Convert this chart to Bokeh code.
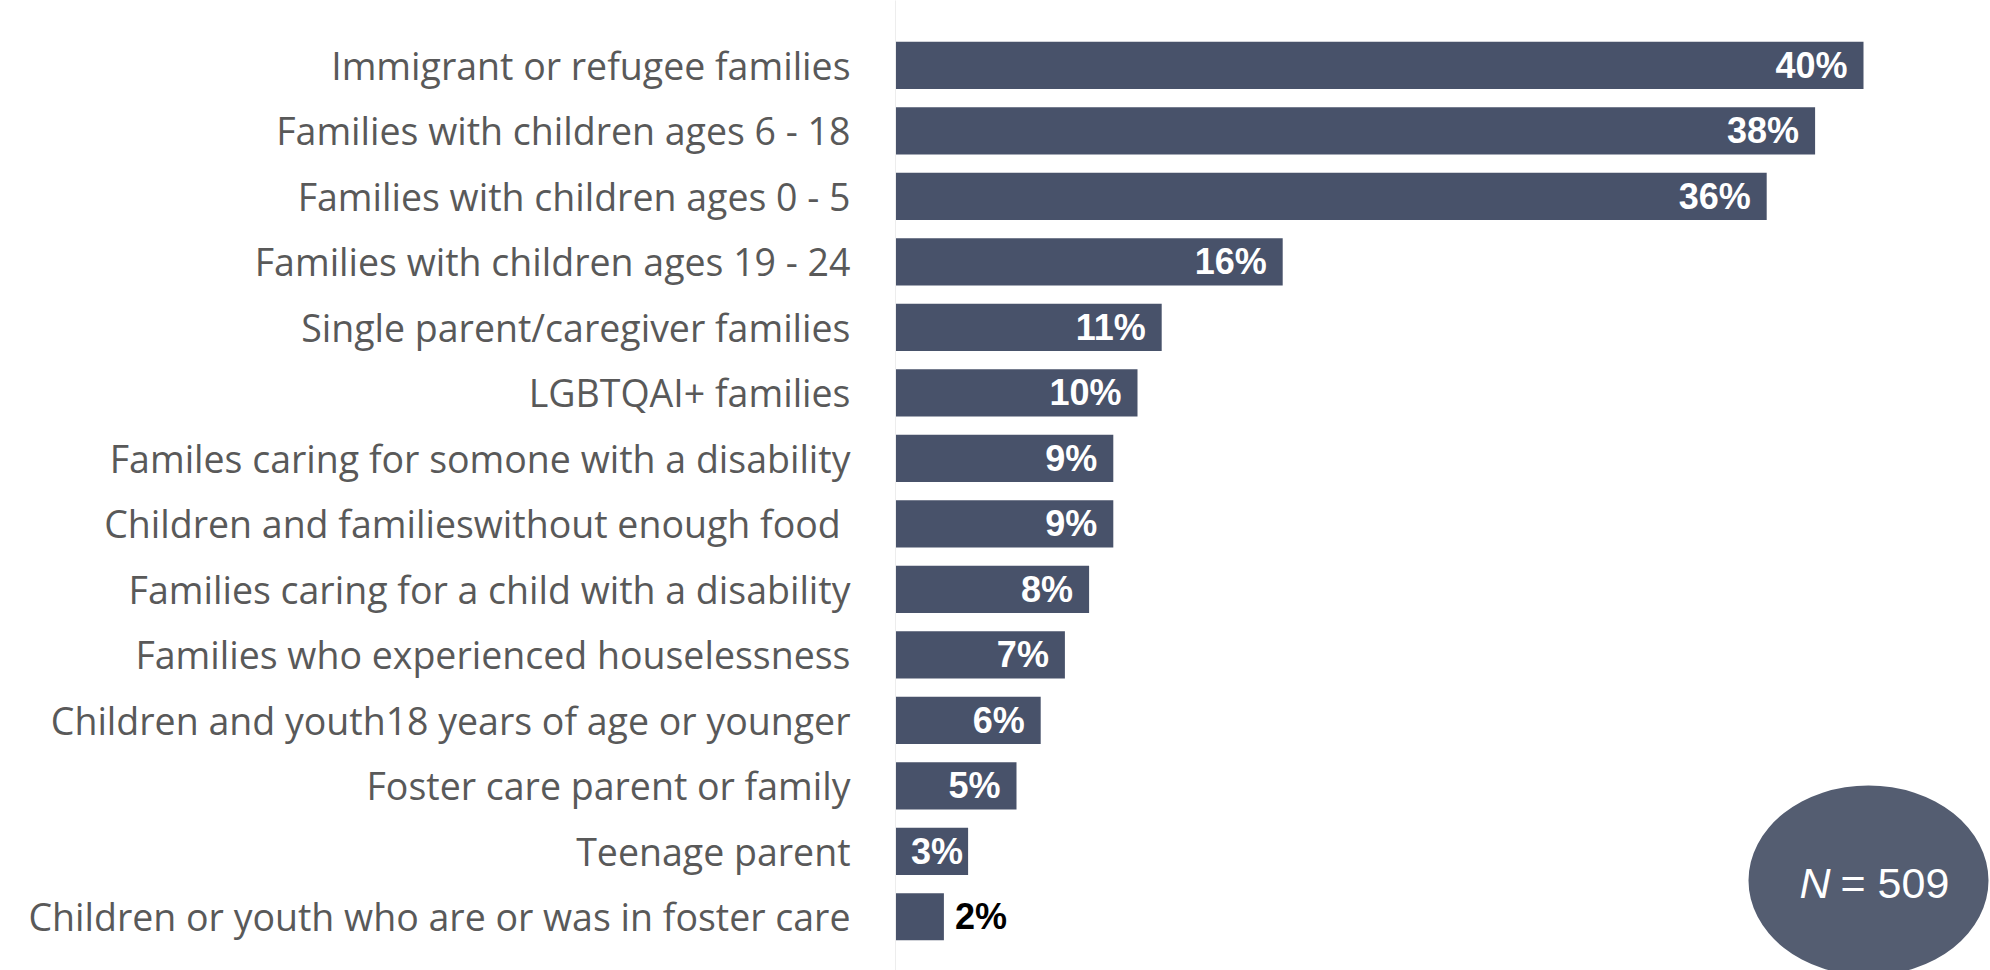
from bokeh.plotting import figure
from bokeh.models import ColumnDataSource, Range1d, FixedTicker, Label
from bokeh.core.properties import value
from bokeh.embed import file_html
from bokeh.resources import INLINE

categories = [
    "Immigrant or refugee families",
    "Families with children ages 6 - 18",
    "Families with children ages 0 - 5",
    "Families with children ages 19 - 24",
    "Single parent/caregiver families",
    "LGBTQAI+ families",
    "Familes caring for somone with a disability",
    "Children and familieswithout enough food ",
    "Families caring for a child with a disability",
    "Families who experienced houselessness",
    "Children and youth18 years of age or younger",
    "Foster care parent or family",
    "Teenage parent",
    "Children or youth who are or was in foster care",
]
percent = [40, 38, 36, 16, 11, 10, 9, 9, 8, 7, 6, 5, 3, 2]
sample_symbol = "N"
sample_size = 509

BAR_COLOR = "#48526a"
px_per_unit = 24.2
row_px = 65.5
pos = list(range(len(categories)))
labels = [f"{v}%" for v in percent]

inside = [v >= 3 for v in percent]
# inside-end label, pulled closer to the end when the bar is short
offsets = [-16 if v * px_per_unit > 100 else -5 for v in percent]
src_in = ColumnDataSource(dict(
    y=[p for p, k in zip(pos, inside) if k],
    x=[v for v, k in zip(percent, inside) if k],
    t=[l for l, k in zip(labels, inside) if k],
    o=[o for o, k in zip(offsets, inside) if k],
))
src_out = ColumnDataSource(dict(
    y=[p for p, k in zip(pos, inside) if not k],
    x=[v for v, k in zip(percent, inside) if not k],
    t=[l for l, k in zip(labels, inside) if not k],
))
src = ColumnDataSource(dict(y=pos, x=percent))

frame_w = 1990 - 895
y_bottom = 13.82
p = figure(
    width=1990, height=970,
    x_range=Range1d(0, frame_w / px_per_unit),
    y_range=Range1d(y_bottom, -0.99),
    output_backend="svg", toolbar_location=None,
    min_border_left=895, min_border_right=0, min_border_top=0, min_border_bottom=0,
)
p.outline_line_color = None
p.background_fill_color = "white"
p.border_fill_color = "white"
p.grid.visible = False
p.xaxis.visible = False

p.yaxis.ticker = FixedTicker(ticks=pos)
p.yaxis.major_label_overrides = {i: c for i, c in zip(pos, categories)}
p.yaxis.major_tick_line_color = None
p.yaxis.minor_tick_line_color = None
p.yaxis.axis_line_color = "#ededed"
p.yaxis.major_label_standoff = 39
p.yaxis.major_label_text_font = "Open Sans"
p.yaxis.major_label_text_font_size = "37.5px"
p.yaxis.major_label_text_color = "#595959"

p.hbar(y="y", right="x", left=0, height=0.72, source=src,
       fill_color=BAR_COLOR, line_color=None)

p.text(x="x", y="y", text="t", source=src_in, x_offset="o",
       text_align="right", text_baseline="middle",
       text_font=value("Liberation Sans"), text_font_style="bold",
       text_font_size="36px", text_color="white")
p.text(x="x", y="y", text="t", source=src_out, x_offset=11,
       text_align="left", text_baseline="middle",
       text_font=value("Liberation Sans"), text_font_style="bold",
       text_font_size="36px", text_color="black")

# N badge
p.ellipse(x=[(1868 - 895) / px_per_unit], y=[y_bottom - 90 / row_px],
          width=240 / px_per_unit, height=190 / row_px,
          fill_color="#545d71", line_color=None)
badge_x = (1834 - 895) / px_per_unit
badge_y = y_bottom - 88 / row_px
p.add_layout(Label(x=badge_x, y=badge_y, x_offset=-4,
                   text=sample_symbol, text_align="right", text_baseline="middle",
                   text_font="Liberation Sans", text_font_style="italic",
                   text_font_size="43px", text_color="white"))
p.add_layout(Label(x=badge_x, y=badge_y, x_offset=6,
                   text=f"= {sample_size}", text_align="left", text_baseline="middle",
                   text_font="Liberation Sans", text_font_size="43px",
                   text_color="white"))

open("out.html", "w").write(file_html(p, INLINE))
